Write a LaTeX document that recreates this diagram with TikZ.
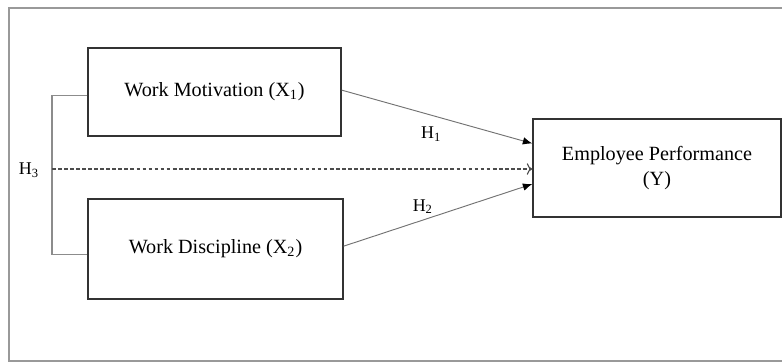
\documentclass[tikz,border=0pt]{standalone}
\usepackage{fontspec}
\setmainfont{Liberation Serif}
\usetikzlibrary{arrows.meta}
\begin{document}
\begin{tikzpicture}[x=0.53pt, y=-0.53pt,
    varbox/.style={draw=black!80, line width=0.8pt, inner sep=0pt, font=\fontsize{10.7}{13.5}\selectfont},
    effect/.style={draw=black!55, line width=0.5pt, -{Latex[length=5pt, width=4pt, black]}},
    link/.style={draw=black!45, line width=0.6pt},
    hyp/.style={font=\fontsize{9.5}{11}\selectfont, inner sep=2pt}]
  \useasboundingbox (0,0) rectangle (782,363);

  % Outer frame (cut off at the right)
  \draw[black!40, line width=0.6pt] (782,8) -| (9,361) -- (782,361);

  % Variables
  \node[varbox, minimum width=134pt, minimum height=46.6pt] (motiv) at (214.5,92) {Work Motivation (X\textsubscript{1})};
  \node[varbox, minimum width=135pt, minimum height=53pt] (discip) at (215.5,249) {Work Discipline (X\textsubscript{2})};
  \node[varbox, minimum width=131.4pt, minimum height=52pt, align=center] (perf) at (657,168) {Employee Performance\\(Y)};

  % Direct effects
  \draw[effect] ([yshift=1pt]motiv.east) -- node[hyp, below=4pt, pos=0.47] {H\textsubscript{1}} ([yshift=13pt]perf.west);
  \draw[effect] ([yshift=1.5pt]discip.east) -- node[hyp, above=1pt, pos=0.42] {H\textsubscript{2}} ([yshift=-8.5pt]perf.west);

  % Simultaneous effect
  \coordinate (split) at (52,169);
  \draw[link] ([yshift=-2pt]motiv.west) -| (split) |- ([yshift=-3pt]discip.west);
  \node[hyp] (h3) at (29,170) {H\textsubscript{3}};
  \draw[black!70, line width=0.6pt, dash pattern=on 2pt off 1.2pt, ->] (split) -- (split -| perf.west);
\end{tikzpicture}
\end{document}
